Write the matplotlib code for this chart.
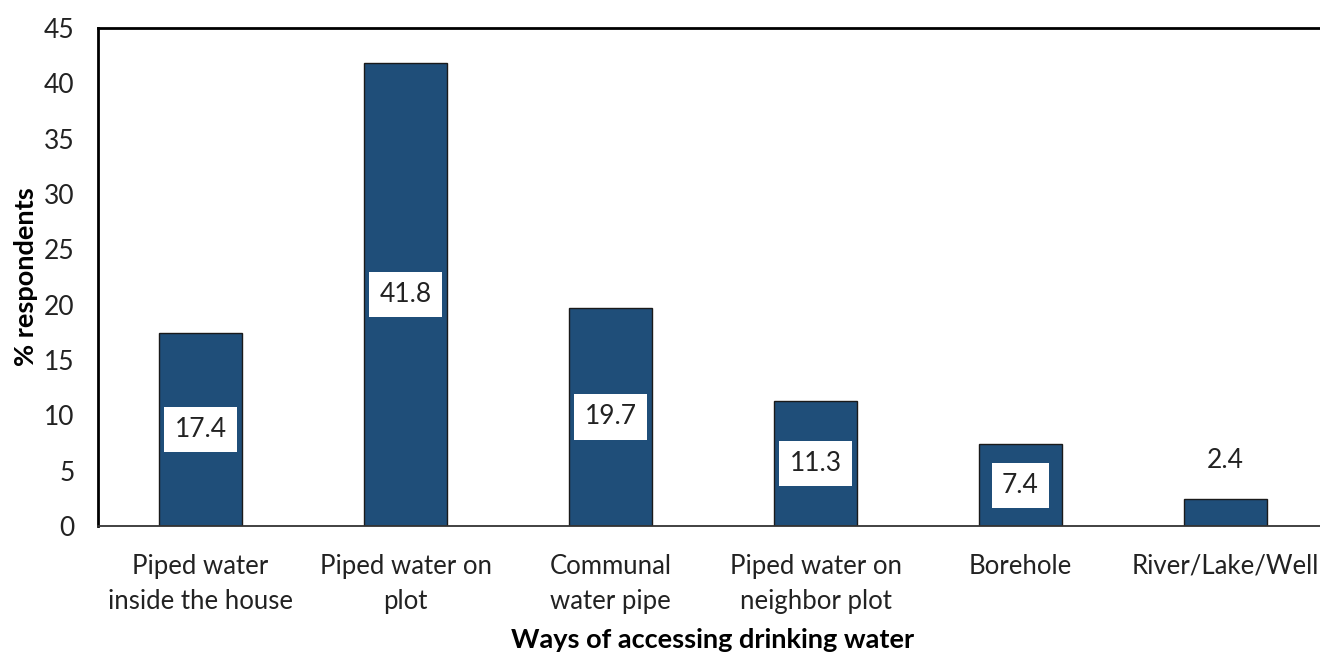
import matplotlib.pyplot as plt
import numpy as np

categories = ["Piped water\ninside the house", "Piped water on\nplot", "Communal\nwater pipe",
              "Piped water on\nneighbor plot", "Borehole", "River/Lake/Well"]
values = [17.4, 41.8, 19.7, 11.3, 7.4, 2.4]
yticks = [0, 5, 10, 15, 20, 25, 30, 35, 40, 45]

plt.rcParams['font.family'] = ['Lato', 'DejaVu Sans']

W, H = 1320, 658
fig = plt.figure(figsize=(W / 100, H / 100), dpi=100)
# axes run a little past the right edge of the canvas
ax = fig.add_axes([98 / W, 1 - 526 / H, (1328 - 98) / W, (526 - 28) / H])

x = np.arange(len(categories))
bars = ax.bar(x, values, width=0.405, color='#1f4e79', edgecolor='#1a1a1a', linewidth=1.0)

for xi, v in zip(x, values):
    if v < 5:
        ax.annotate(f"{v}", (xi, v), xytext=(0, 19), textcoords='offset points',
                    ha='center', va='bottom', fontsize=19, color='#222222')
    else:
        ax.text(xi, v / 2, f"{v}", ha='center', va='center', fontsize=19, color='#222222',
                bbox=dict(boxstyle='square,pad=0.38', fc='white', ec='none'))

ax.set_xlim(-0.5, len(categories) - 0.5)
ax.set_ylim(0, 45)
ax.set_yticks(yticks)
ax.set_xticks(x)
ax.set_xticklabels(categories, fontsize=18.5, color='#222222', linespacing=1.5)
ax.tick_params(axis='x', length=0, colors='#222222', labelsize=18.5, pad=20)
ax.tick_params(axis='y', length=0, colors='#222222', labelsize=19, pad=17)

for side in ['left', 'top', 'right']:
    ax.spines[side].set_linewidth(2.0)
    ax.spines[side].set_color('black')
ax.spines['bottom'].set_linewidth(1.3)
ax.spines['bottom'].set_color('#333333')

ax.set_ylabel("% respondents", fontsize=19.5, fontweight='bold', labelpad=4)
ax.set_xlabel("Ways of accessing drinking water", fontsize=19.5, fontweight='bold', labelpad=10)

fig.savefig("out.png", dpi=100)
